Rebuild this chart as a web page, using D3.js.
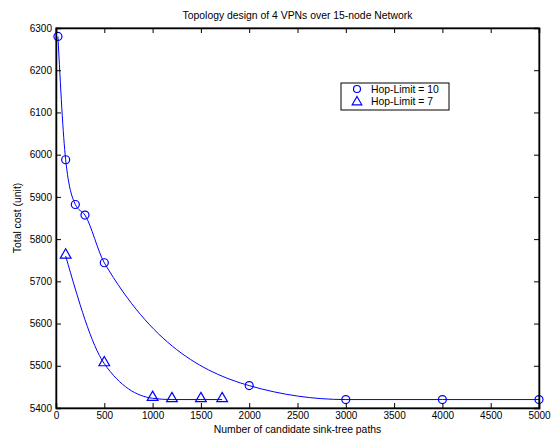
<!DOCTYPE html>
<html><head><meta charset="utf-8">
<script src="https://cdn.jsdelivr.net/npm/d3@7"></script>
<style>body{margin:0;background:#fff}text{font-family:"Liberation Sans",Arial,sans-serif}</style>
</head><body><svg id="c" width="551" height="436"></svg>
<script>
const title = "Topology design of 4 VPNs over 15-node Network";
const xLabel = "Number of candidate sink-tree paths";
const yLabel = "Total cost (unit)";
const xTicks = [0,500,1000,1500,2000,2500,3000,3500,4000,4500,5000];
const yTicks = [5400,5500,5600,5700,5800,5900,6000,6100,6200,6300];
const hop10X = [20,100,200,300,500,2000,3000,4000,5000];
const hop10Y = [6280,5988,5882,5857,5744,5453,5420,5420,5420];
const hop7X = [100,500,1000,1200,1500,1720];
const hop7Y = [5760,5505,5423,5420,5420,5420];
const seriesNames = ["Hop-Limit = 10","Hop-Limit = 7"];

const svg = d3.select("#c");
const L=56,R=539,T=28,B=408;
const x = d3.scaleLinear().domain([0,5000]).range([L,R]);
const y = d3.scaleLinear().domain([5400,6300]).range([B,T]);
const blue = "#0000ff";

const line = d3.line().x(d=>x(d[0])).y(d=>y(d[1])).curve(d3.curveMonotoneX);
const s10 = hop10X.map((v,i)=>[v,hop10Y[i]]);
const s7 = hop7X.map((v,i)=>[v,hop7Y[i]]);
svg.append("path").attr("d",line(s10)).attr("fill","none").attr("stroke",blue).attr("stroke-width",1);
svg.append("path").attr("d",line(s7)).attr("fill","none").attr("stroke",blue).attr("stroke-width",1);

svg.selectAll(".c10").data(s10).enter().append("circle")
  .attr("cx",d=>x(d[0])).attr("cy",d=>y(d[1])).attr("r",4)
  .attr("fill","none").attr("stroke",blue).attr("stroke-width",1.2);
const tri = d3.symbol().type(d3.symbolTriangle).size(50);
svg.selectAll(".t7").data(s7).enter().append("path")
  .attr("d",tri).attr("transform",d=>`translate(${x(d[0])},${y(d[1])-1})`)
  .attr("fill","none").attr("stroke",blue).attr("stroke-width",1.2);

svg.append("rect").attr("x",L).attr("y",T).attr("width",R-L).attr("height",B-T)
  .attr("fill","none").attr("stroke","#000").attr("stroke-width",1);

const gx = svg.append("g").attr("transform",`translate(0,${B})`)
  .call(d3.axisBottom(x).tickValues(xTicks).tickSize(-5).tickPadding(4).tickFormat(d3.format("d")));
const gxt = svg.append("g").attr("transform",`translate(0,${T})`)
  .call(d3.axisTop(x).tickValues(xTicks).tickSize(-5).tickFormat(""));
const gy = svg.append("g").attr("transform",`translate(${L},0)`)
  .call(d3.axisLeft(y).tickValues(yTicks).tickSize(-5).tickPadding(4).tickFormat(d3.format("d")));
const gyr = svg.append("g").attr("transform",`translate(${R},0)`)
  .call(d3.axisRight(y).tickValues(yTicks).tickSize(-5).tickFormat(""));
[gx,gxt,gy,gyr].forEach(g=>{
  g.select(".domain").attr("stroke","#000").attr("stroke-width",1.5);
  g.selectAll("line").attr("stroke","#000");
  g.selectAll("text").attr("font-size","10px").attr("fill","#000").attr("font-family","Liberation Sans, Arial, sans-serif");
});

svg.append("text").attr("x",(L+R)/2).attr("y",19).attr("text-anchor","middle").attr("font-size","10.4px").text(title);
svg.append("text").attr("x",(L+R)/2).attr("y",433).attr("text-anchor","middle").attr("font-size","10.4px").text(xLabel);
svg.append("text").attr("transform",`translate(21,${(T+B)/2}) rotate(-90)`).attr("text-anchor","middle").attr("font-size","10.4px").text(yLabel);

const lg = svg.append("g");
lg.append("rect").attr("x",341).attr("y",83).attr("width",108).attr("height",27)
  .attr("fill","#fff").attr("stroke","#000").attr("stroke-width",1);
lg.append("circle").attr("cx",357).attr("cy",89).attr("r",3.5).attr("fill","none").attr("stroke",blue).attr("stroke-width",1.2);
lg.append("path").attr("d",d3.symbol().type(d3.symbolTriangle).size(40)).attr("transform","translate(357,102)")
  .attr("fill","none").attr("stroke",blue).attr("stroke-width",1.2);
lg.append("text").attr("x",371).attr("y",93).attr("font-size","10.4px").text(seriesNames[0]);
lg.append("text").attr("x",371).attr("y",105).attr("font-size","10.4px").text(seriesNames[1]);
</script></body></html>
